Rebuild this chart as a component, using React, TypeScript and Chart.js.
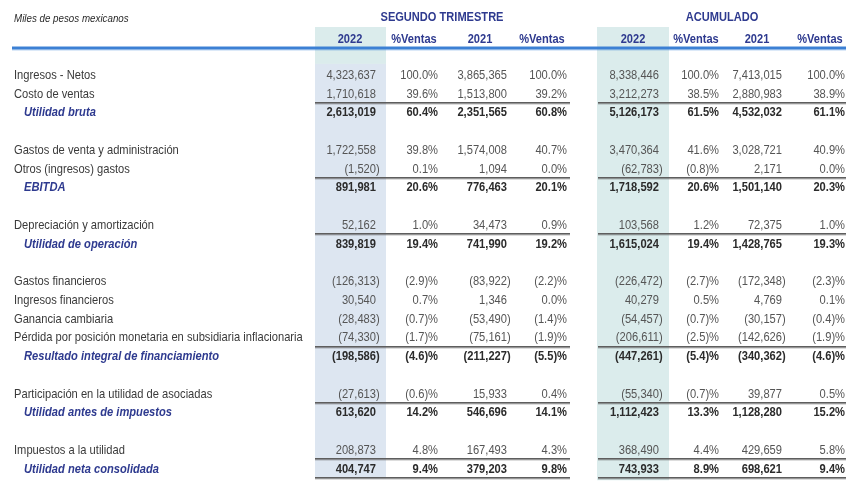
import React, { useEffect, useRef } from "react";
import { Chart, registerables } from "chart.js";

Chart.register(...registerables);

const UNITS_NOTE = "Miles de pesos mexicanos";
const GROUP_TITLES = ["SEGUNDO TRIMESTRE", "ACUMULADO"];
const COLUMN_TITLES = ["2022", "%Ventas", "2021", "%Ventas", "2022", "%Ventas", "2021", "%Ventas"];

const ROW_LABELS = [
  "Ingresos - Netos",
  "Costo de ventas",
  "Utilidad bruta",
  "",
  "Gastos de venta y administración",
  "Otros (ingresos) gastos",
  "EBITDA",
  "",
  "Depreciación y amortización",
  "Utilidad de operación",
  "",
  "Gastos financieros",
  "Ingresos financieros",
  "Ganancia cambiaria",
  "Pérdida por posición monetaria en subsidiaria inflacionaria",
  "Resultado integral de financiamiento",
  "",
  "Participación en la utilidad de asociadas",
  "Utilidad antes de impuestos",
  "",
  "Impuestos a la utilidad",
  "Utilidad neta consolidada",
];
const SUBTOTAL_ROWS = [2, 6, 9, 15, 18, 21];
const RULE_BELOW_ROWS = [1, 5, 8, 14, 17, 20, 21];

const Q2022 = [4323637, 1710618, 2613019, null, 1722558, -1520, 891981, null, 52162, 839819, null, -126313, 30540, -28483, -74330, -198586, null, -27613, 613620, null, 208873, 404747];
const Q2022_PCT = [100.0, 39.6, 60.4, null, 39.8, 0.1, 20.6, null, 1.0, 19.4, null, -2.9, 0.7, -0.7, -1.7, -4.6, null, -0.6, 14.2, null, 4.8, 9.4];
const Q2021 = [3865365, 1513800, 2351565, null, 1574008, 1094, 776463, null, 34473, 741990, null, -83922, 1346, -53490, -75161, -211227, null, 15933, 546696, null, 167493, 379203];
const Q2021_PCT = [100.0, 39.2, 60.8, null, 40.7, 0.0, 20.1, null, 0.9, 19.2, null, -2.2, 0.0, -1.4, -1.9, -5.5, null, 0.4, 14.1, null, 4.3, 9.8];
const A2022 = [8338446, 3212273, 5126173, null, 3470364, -62783, 1718592, null, 103568, 1615024, null, -226472, 40279, -54457, -206611, -447261, null, -55340, 1112423, null, 368490, 743933];
const A2022_PCT = [100.0, 38.5, 61.5, null, 41.6, -0.8, 20.6, null, 1.2, 19.4, null, -2.7, 0.5, -0.7, -2.5, -5.4, null, -0.7, 13.3, null, 4.4, 8.9];
const A2021 = [7413015, 2880983, 4532032, null, 3028721, 2171, 1501140, null, 72375, 1428765, null, -172348, 4769, -30157, -142626, -340362, null, 39877, 1128280, null, 429659, 698621];
const A2021_PCT = [100.0, 38.9, 61.1, null, 40.9, 0.0, 20.3, null, 1.0, 19.3, null, -2.3, 0.1, -0.4, -1.9, -4.6, null, 0.5, 15.2, null, 5.8, 9.4];

const COLUMNS = [Q2022, Q2022_PCT, Q2021, Q2021_PCT, A2022, A2022_PCT, A2021, A2021_PCT];
const IS_PCT = [false, true, false, true, false, true, false, true];

// layout (x in page pixels, y in row units)
const COL_RIGHT_X = [376, 438, 507, 567, 659, 719, 782, 845];
const COL_TITLE_X = [350, 414, 480, 542, 633, 696, 757, 820];
const GROUP_TITLE_X = [442, 722];
const GROUP_SPAN = [[315, 570], [598, 846]];
const SHADE_SPAN = [[315, 386], [597, 669]];
const LABEL_X = 14;
const SUBTOTAL_X = 24;

const FAMILY = "'Liberation Sans', Arial, sans-serif";
const SX = 0.82;
const HEAD_BLUE = "#2e3a8f";

function fmtNum(v: number): string {
  const s = Math.abs(v).toLocaleString("en-US");
  return v < 0 ? "(" + s + ")" : s;
}
function fmtPct(v: number): string {
  const s = Math.abs(v).toFixed(1);
  return v < 0 ? "(" + s + ")%" : s + "%";
}

function txt(ctx: CanvasRenderingContext2D, s: string, x: number, y: number, align: CanvasTextAlign, font: string, color: string, sx = SX) {
  ctx.save();
  ctx.translate(x, y);
  ctx.scale(sx, 1);
  ctx.font = font;
  ctx.fillStyle = color;
  ctx.textAlign = align;
  ctx.textBaseline = "middle";
  ctx.fillText(s, 0, 0);
  ctx.restore();
}

const tablePlugin = {
  id: "tablePlugin",
  beforeDatasetsDraw(chart: any) {
    const ctx: CanvasRenderingContext2D = chart.ctx;
    const xs = chart.scales.x;
    const ys = chart.scales.y;
    const last = ROW_LABELS.length - 1;
    // shaded columns
    const top = ys.getPixelForValue(-2.56);
    const bodyTop = ys.getPixelForValue(-0.59);
    const bottom = ys.getPixelForValue(last + 0.5);
    // group 1
    ctx.fillStyle = "#dbecec";
    ctx.fillRect(xs.getPixelForValue(SHADE_SPAN[0][0]), top, xs.getPixelForValue(SHADE_SPAN[0][1]) - xs.getPixelForValue(SHADE_SPAN[0][0]), bodyTop - top);
    ctx.fillStyle = "#dde6f1";
    ctx.fillRect(xs.getPixelForValue(SHADE_SPAN[0][0]), bodyTop, xs.getPixelForValue(SHADE_SPAN[0][1]) - xs.getPixelForValue(SHADE_SPAN[0][0]), bottom - bodyTop);
    // group 2
    ctx.fillStyle = "#dbecec";
    ctx.fillRect(xs.getPixelForValue(SHADE_SPAN[1][0]), top, xs.getPixelForValue(SHADE_SPAN[1][1]) - xs.getPixelForValue(SHADE_SPAN[1][0]), bottom + 2 - top);

    // blue header rule
    const by = ys.getPixelForValue(-1.44);
    ctx.fillStyle = "#3c80d4";
    ctx.fillRect(xs.getPixelForValue(12), by - 1.5, xs.getPixelForValue(846) - xs.getPixelForValue(12), 3);
    ctx.fillStyle = "rgba(60,128,212,0.35)";
    ctx.fillRect(xs.getPixelForValue(12), by + 1.5, xs.getPixelForValue(846) - xs.getPixelForValue(12), 1);

    // gray rules
    for (const r of RULE_BELOW_ROWS) {
      const y = Math.round(ys.getPixelForValue(r + 0.5));
      for (const [a, b] of GROUP_SPAN) {
        const x0 = xs.getPixelForValue(a);
        const x1 = xs.getPixelForValue(b);
        ctx.fillStyle = "#5e5e5e";
        ctx.fillRect(x0, y - 1, x1 - x0, 1.6);
        ctx.fillStyle = "rgba(94,94,94,0.35)";
        ctx.fillRect(x0, y + 0.6, x1 - x0, 1);
      }
    }

    // headers
    txt(ctx, UNITS_NOTE, xs.getPixelForValue(LABEL_X), ys.getPixelForValue(-3.0), "left", `italic 11.5px ${FAMILY}`, "#2a2a2a", 0.85);
    GROUP_TITLES.forEach((t, i) => {
      txt(ctx, t, xs.getPixelForValue(GROUP_TITLE_X[i]), ys.getPixelForValue(-3.06), "center", `bold 13.5px ${FAMILY}`, HEAD_BLUE);
    });
    COLUMN_TITLES.forEach((t, i) => {
      txt(ctx, t, xs.getPixelForValue(COL_TITLE_X[i]), ys.getPixelForValue(-1.93), "center", `bold 13.5px ${FAMILY}`, HEAD_BLUE);
    });
  },
  afterDatasetsDraw(chart: any) {
    const ctx: CanvasRenderingContext2D = chart.ctx;
    // row labels: dataset 0
    const labelMeta = chart.getDatasetMeta(0);
    labelMeta.data.forEach((el: any, i: number) => {
      const raw = chart.data.datasets[0].data[i];
      const row = raw.row;
      const sub = SUBTOTAL_ROWS.includes(row);
      txt(ctx, ROW_LABELS[row], el.x, el.y, "left",
        sub ? `italic bold 13.6px ${FAMILY}` : `13.6px ${FAMILY}`,
        sub ? HEAD_BLUE : "#3a3a3a");
    });
    // value columns: datasets 1..8
    for (let c = 0; c < COLUMNS.length; c++) {
      const meta = chart.getDatasetMeta(c + 1);
      meta.data.forEach((el: any, i: number) => {
        const raw = chart.data.datasets[c + 1].data[i];
        const row = raw.row;
        const v = raw.v as number;
        const sub = SUBTOTAL_ROWS.includes(row);
        const font = sub ? `bold 13.6px ${FAMILY}` : `13.6px ${FAMILY}`;
        const color = sub ? "#2b2b2b" : "#555555";
        if (IS_PCT[c]) {
          txt(ctx, fmtPct(v), el.x, el.y, "right", font, color);
        } else {
          ctx.save();
          ctx.font = font;
          const pw = ctx.measureText(")").width * SX;
          ctx.restore();
          const s = fmtNum(v);
          txt(ctx, s, v < 0 ? el.x + pw : el.x, el.y, "right", font, color);
        }
      });
    }
  },
};

export default function App() {
  const ref = useRef<HTMLCanvasElement | null>(null);
  useEffect(() => {
    document.body.style.margin = "0";
    const canvas = ref.current!;
    const labelPoints = ROW_LABELS.map((l, i) => ({ l, i }))
      .filter((o) => o.l !== "")
      .map((o) => ({ x: SUBTOTAL_ROWS.includes(o.i) ? SUBTOTAL_X : LABEL_X, y: o.i, row: o.i }));
    const datasets: any[] = [
      { label: "labels", data: labelPoints, pointRadius: 0, showLine: false },
    ];
    COLUMNS.forEach((col, c) => {
      const pts: any[] = [];
      col.forEach((v, i) => {
        if (v !== null) pts.push({ x: COL_RIGHT_X[c], y: i, row: i, v });
      });
      datasets.push({ label: COLUMN_TITLES[c], data: pts, pointRadius: 0, showLine: false });
    });
    const chart = new Chart(canvas, {
      type: "scatter",
      data: { datasets },
      options: {
        responsive: false,
        animation: false,
        devicePixelRatio: 1,
        layout: { padding: 0 },
        scales: {
          x: { type: "linear", min: 0, max: 861, display: false },
          y: { type: "linear", min: -4, max: 22.5, reverse: true, display: false },
        },
        plugins: { legend: { display: false }, tooltip: { enabled: false } },
        events: [],
      },
      plugins: [tablePlugin],
    } as any);
    return () => chart.destroy();
  }, []);
  return (
    <div style={{ width: 861, height: 497, background: "#fff" }}>
      <canvas ref={ref} width={861} height={497} style={{ display: "block" }} />
    </div>
  );
}
